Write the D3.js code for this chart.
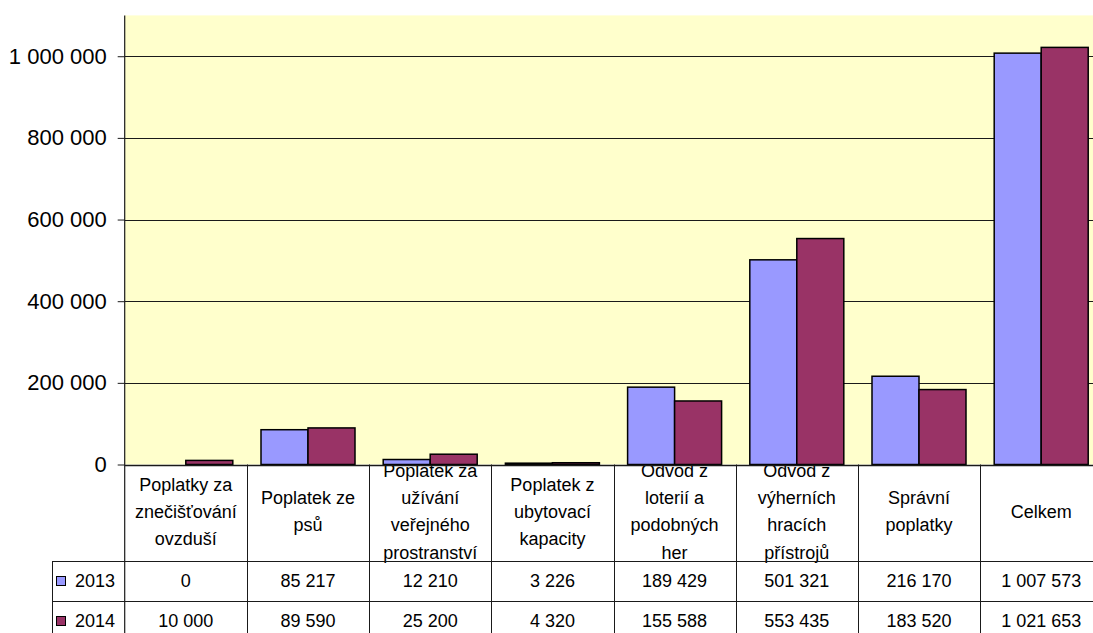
<!DOCTYPE html>
<html>
<head>
<meta charset="utf-8">
<script src="https://cdn.jsdelivr.net/npm/d3@7"></script>
<style>
  html, body { margin: 0; padding: 0; background: #fff; }
  svg { display: block; font-family: "Liberation Sans", Arial, sans-serif; }
</style>
</head>
<body>
<svg id="chart" width="1093" height="633"></svg>
<script>
// ---- data ----
const categories = [
  "Poplatky za znečišťování ovzduší",
  "Poplatek ze psů",
  "Poplatek za užívání veřejného prostranství",
  "Poplatek z ubytovací kapacity",
  "Odvod z loterií a podobných her",
  "Odvod z výherních hracích přístrojů",
  "Správní poplatky",
  "Celkem"
];
const categoryLines = [
  ["Poplatky za", "znečišťování", "ovzduší"],
  ["Poplatek ze", "psů"],
  ["Poplatek za", "užívání", "veřejného", "prostranství"],
  ["Poplatek z", "ubytovací", "kapacity"],
  ["Odvod z", "loterií a", "podobných", "her"],
  ["Odvod z", "výherních", "hracích", "přístrojů"],
  ["Správní", "poplatky"],
  ["Celkem"]
];
const seriesNames = ["2013", "2014"];
const values2013 = [0, 85217, 12210, 3226, 189429, 501321, 216170, 1007573];
const values2014 = [10000, 89590, 25200, 4320, 155588, 553435, 183520, 1021653];
const yTicks = [0, 200000, 400000, 600000, 800000, 1000000];
const seriesColors = ["#9999FF", "#993366"];

// ---- layout ----
const svg = d3.select("#chart");
const plotLeft = 124.7, plotRight = 1102.3, plotTop = 15.4, plotBottom = 464.5;
const headerBottom = 561, row1Bottom = 601, row2Bottom = 641, legendLeft = 52;

const locale = d3.formatLocale({decimal: ",", thousands: " ", grouping: [3], currency: ["", ""]});
const fmt = locale.format(",d");

const x = d3.scaleBand().domain(categories).range([plotLeft, plotRight]).padding(0);
const x1 = d3.scaleBand().domain(seriesNames).range([0, x.bandwidth()]).paddingInner(0).paddingOuter(0.3);
const y = d3.scaleLinear().domain([0, 1100000]).range([plotBottom, plotTop]);

const seriesData = [values2013, values2014];
const lineColor = "#1a1a1a";

// plot background
svg.append("rect")
  .attr("x", plotLeft).attr("y", plotTop)
  .attr("width", plotRight - plotLeft).attr("height", plotBottom - plotTop)
  .attr("fill", "#FFFFCC");

// y axis with gridlines
const yAxis = d3.axisLeft(y).tickValues(yTicks).tickFormat(d => fmt(d)).tickSize(7).tickPadding(11);
const gy = svg.append("g").attr("transform", `translate(${plotLeft},0)`).call(yAxis);
gy.select(".domain").remove();
gy.selectAll(".tick line").attr("stroke", lineColor);
gy.selectAll(".tick text").attr("font-size", 22).attr("fill", "#000")
  .attr("font-family", "Liberation Sans, Arial, sans-serif");

svg.append("g").selectAll("line.grid")
  .data(yTicks.filter(d => d > 0))
  .join("line")
  .attr("x1", plotLeft).attr("x2", plotRight)
  .attr("y1", d => Math.round(y(d)) + 0.5).attr("y2", d => Math.round(y(d)) + 0.5)
  .attr("stroke", lineColor).attr("stroke-width", 1);

// bars
const barG = svg.append("g");
seriesNames.forEach((s, si) => {
  barG.selectAll(`rect.s${si}`)
    .data(categories.map((c, i) => ({c, v: seriesData[si][i]})))
    .join("rect")
    .attr("x", d => x(d.c) + x1(s))
    .attr("y", d => y(d.v))
    .attr("width", x1.bandwidth())
    .attr("height", d => y(0) - y(d.v))
    .attr("fill", seriesColors[si])
    .attr("stroke", "#000")
    .attr("stroke-width", 1.5);
});

// y axis line
svg.append("line")
  .attr("x1", plotLeft).attr("x2", plotLeft)
  .attr("y1", plotTop).attr("y2", 633)
  .attr("stroke", lineColor).attr("stroke-width", 1.2);

// ---- data table ----
const table = svg.append("g");
// clip for header text
svg.append("defs").append("clipPath").attr("id", "hdrclip")
  .append("rect").attr("x", plotLeft).attr("y", plotBottom + 1)
  .attr("width", plotRight - plotLeft).attr("height", 200);

const hdr = table.append("g").attr("clip-path", "url(#hdrclip)");
const lineH = 27.3, hdrCenter = 511.5;
categories.forEach((c, i) => {
  const lines = categoryLines[i];
  const cx = x(c) + x.bandwidth() / 2;
  lines.forEach((ln, k) => {
    hdr.append("text")
      .attr("x", cx)
      .attr("y", hdrCenter + (k - (lines.length - 1) / 2) * lineH)
      .attr("dy", "0.35em")
      .attr("text-anchor", "middle")
      .attr("font-size", 18)
      .attr("fill", "#000")
      .text(ln);
  });
});

// horizontal table lines
[plotBottom, headerBottom, row1Bottom].forEach((yy, idx) => {
  table.append("line")
    .attr("x1", idx === 0 ? plotLeft : legendLeft).attr("x2", plotRight)
    .attr("y1", Math.round(yy) + 0.5).attr("y2", Math.round(yy) + 0.5)
    .attr("stroke", lineColor).attr("stroke-width", idx === 0 ? 1.5 : 1);
});
// vertical table lines
categories.forEach(c => {
  const xx = x(c) + x.bandwidth();
  table.append("line")
    .attr("x1", Math.round(xx) + 0.5).attr("x2", Math.round(xx) + 0.5)
    .attr("y1", plotBottom).attr("y2", 633)
    .attr("stroke", lineColor).attr("stroke-width", 1);
});
table.append("line")
  .attr("x1", legendLeft + 0.5).attr("x2", legendLeft + 0.5)
  .attr("y1", headerBottom).attr("y2", 633)
  .attr("stroke", lineColor).attr("stroke-width", 1);

// rows
const rowTops = [headerBottom, row1Bottom];
const rowBottoms = [row1Bottom, row2Bottom];
seriesNames.forEach((s, si) => {
  const cy = (rowTops[si] + rowBottoms[si]) / 2;
  table.append("rect")
    .attr("x", 56.5).attr("y", cy - 4.5)
    .attr("width", 9).attr("height", 9)
    .attr("fill", seriesColors[si]).attr("stroke", "#000").attr("stroke-width", 1);
  table.append("text")
    .attr("x", 75).attr("y", cy).attr("dy", "0.35em")
    .attr("font-size", 18).attr("fill", "#000").text(s);
  categories.forEach((c, i) => {
    table.append("text")
      .attr("x", x(c) + x.bandwidth() / 2).attr("y", cy).attr("dy", "0.35em")
      .attr("text-anchor", "middle").attr("font-size", 18).attr("fill", "#000")
      .text(fmt(seriesData[si][i]));
  });
});
</script>
</body>
</html>
